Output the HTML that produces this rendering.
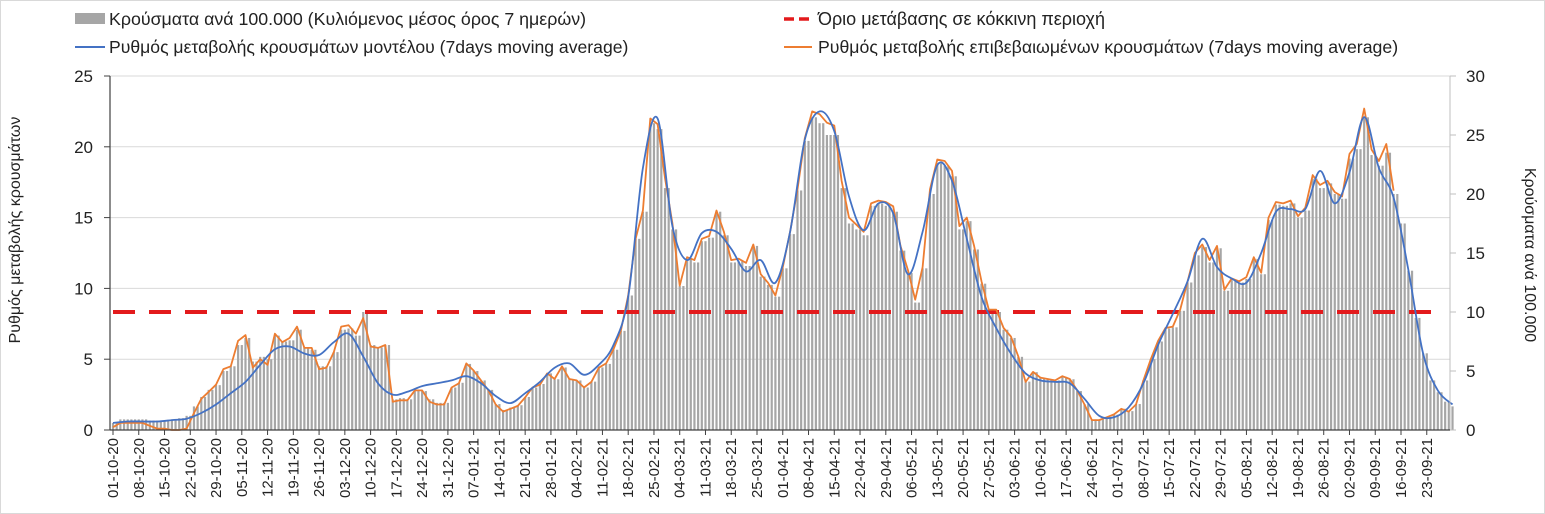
<!DOCTYPE html>
<html><head><meta charset="utf-8">
<style>
html,body{margin:0;padding:0;background:#fff;}
svg{display:block;font-family:"Liberation Sans",sans-serif;}
</style></head>
<body>
<svg id="chart" width="1545" height="514" viewBox="0 0 1545 514">
  <rect x="0.5" y="0.5" width="1544" height="513" fill="#fff" stroke="#d9d9d9"/>
  <g id="grid"></g>
  <g id="bars"></g>
  <g id="lines"></g>
  <g id="axes"></g>
  <g id="legend">
    <g>
      <rect x="75" y="13" width="30" height="11" fill="#a6a6a6"/>
      <text x="109" y="25" font-size="17.8" fill="#222">Κρούσματα ανά 100.000 (Κυλιόμενος μέσος όρος 7 ημερών)</text>
    </g>
    <g>
      <line x1="784" y1="19" x2="812" y2="19" stroke="#e31a1c" stroke-width="3.5" stroke-dasharray="10,5"/>
      <text x="818" y="25" font-size="18" fill="#222">Όριο μετάβασης σε κόκκινη περιοχή</text>
    </g>
    <g>
      <line x1="75" y1="47" x2="105" y2="47" stroke="#4472c4" stroke-width="2"/>
      <text x="109" y="53" font-size="17.6" fill="#222">Ρυθμός μεταβολής κρουσμάτων μοντέλου (7days moving average)</text>
    </g>
    <g>
      <line x1="784" y1="47" x2="812" y2="47" stroke="#ed7d31" stroke-width="2"/>
      <text x="818" y="53" font-size="17.7" fill="#222">Ρυθμός μεταβολής επιβεβαιωμένων κρουσμάτων (7days moving average)</text>
    </g>
  </g>
  <text x="20" y="230" font-size="16" fill="#222" text-anchor="middle" transform="rotate(-90 20 230)">Ρυθμός μεταβολής κρουσμάτων</text>
  <text x="1525" y="255" font-size="16" fill="#222" text-anchor="middle" transform="rotate(90 1525 255)">Κρούσματα ανά 100.000</text>
</svg>
<script>
// ---- data ----
const orangeStep = 2; // days between orange samples
const orangeRate = [0.2,0.5,0.5,0.5,0.5,0.3,0.1,0.1,0,0,0.1,1.2,2.2,2.7,3.2,4.3,4.5,6.3,6.7,4.4,5.0,4.6,6.8,6.2,6.5,7.3,5.8,5.8,4.3,4.4,5.5,7.3,7.4,6.8,7.9,5.9,5.8,6.0,2.0,2.1,2.1,2.8,2.8,2.0,1.8,1.8,3.0,3.3,4.7,4.2,3.5,2.8,1.8,1.3,1.5,1.7,2.3,3.0,3.2,4.0,3.6,4.5,3.6,3.5,3.0,3.4,4.4,4.7,5.7,7.0,9.5,13.5,15.5,22.0,21.6,17.8,14.6,10.2,12.2,12.0,13.5,13.7,15.5,14.0,12.0,12.1,11.8,13.1,11.0,10.4,9.5,11.5,14.0,17.0,20.6,22.5,22.3,21.7,21.5,17.6,15.0,14.5,14.0,16.0,16.2,16.1,15.8,13.0,11.3,9.2,11.5,17.0,19.1,19.0,18.3,14.4,15.0,13.0,10.5,8.5,8.5,7.2,6.6,5.2,3.4,4.1,3.7,3.6,3.5,3.8,3.6,2.8,1.8,0.7,0.7,0.9,1.1,1.5,1.3,1.8,3.5,5.0,6.3,7.2,7.3,8.5,10.5,12.5,13.1,12.0,13.0,9.9,10.7,10.5,10.8,12.2,11.1,15.0,16.1,16.0,16.2,15.1,15.7,18.0,17.3,17.6,16.8,16.5,19.5,20.2,22.7,19.8,19.0,20.2,16.9];
const blueStep = 4;
const modelRate = [0.5,0.6,0.6,0.6,0.7,0.8,1.2,1.8,2.6,3.4,4.6,5.7,5.9,5.4,5.3,6.2,6.8,5.2,3.3,2.5,2.7,3.1,3.3,3.5,3.8,3.3,2.4,1.9,2.6,3.4,4.4,4.7,3.9,4.6,6.0,9.4,18.5,22.0,14.4,12.0,13.9,14.0,12.8,11.2,12.0,10.4,14.0,20.5,22.5,21.1,16.5,14.1,16.0,15.3,11.0,14.0,18.7,17.6,13.5,9.4,7.2,5.4,4.0,3.5,3.4,3.3,2.2,1.0,0.9,1.6,3.3,6.0,8.2,10.5,13.5,11.5,10.7,10.4,12.5,15.4,15.6,15.6,18.3,16.0,18.2,22.1,18.5,16.4,11.3,5.4,2.8,1.8];
const barStep = 2;
const casesPer100k = [0.6,0.9,0.9,0.9,0.9,0.8,0.8,0.8,0.9,1.0,1.2,2.0,2.8,3.4,3.8,5.0,5.4,7.2,7.8,5.8,6.2,6.0,8.0,7.5,7.6,8.5,7.0,6.8,5.4,5.4,6.6,8.5,8.6,8.0,10.0,7.2,7.0,7.2,2.6,2.7,2.6,3.3,3.3,2.6,2.3,2.3,3.6,4.0,5.6,5.0,4.2,3.4,2.2,1.7,1.9,2.1,2.8,3.6,3.9,4.8,4.3,5.3,4.3,4.2,3.6,4.1,5.3,5.6,6.8,8.4,11.4,16.2,18.5,26.0,25.5,20.5,17.0,12.2,14.5,14.2,16.0,16.3,18.5,16.5,14.2,14.3,13.9,15.6,13.0,12.3,11.3,13.7,16.6,20.3,24.5,26.5,26.0,25.0,25.0,20.5,17.5,17.0,16.5,19.0,19.2,19.0,18.5,15.2,13.3,10.8,13.7,20.0,22.6,22.4,21.5,17.0,17.7,15.3,12.4,10.0,10.0,8.5,7.8,6.2,4.1,4.9,4.4,4.3,4.2,4.5,4.3,3.3,2.2,0.9,0.9,1.1,1.3,1.8,1.6,2.2,4.2,6.0,7.5,8.6,8.7,10.1,12.5,14.8,15.5,14.2,15.4,11.8,12.7,12.5,12.8,14.5,13.2,17.8,19.1,19.0,19.2,18.0,18.6,21.3,20.5,20.9,20.0,19.6,23.0,23.8,26.5,23.3,22.4,23.5,20.0,17.5,13.5,9.5,6.5,4.2,3.2,2.4,2.0];
const leftTicks = [0,5,10,15,20,25];
const rightTicks = [0,5,10,15,20,25,30];
const redThreshold = 10; // right axis units
const startDate = [2020,10,1]; // 01-10-2020
const labelCount = 52;

// ---- scales ----
const X0 = 113, PXD = 3.68, YB = 430, YT = 76;
const xDay = d => X0 + d*PXD;
const yL = v => YB - v*(YB-YT)/25;
const yR = v => YB - v*(YB-YT)/30;
const NS = "http://www.w3.org/2000/svg";
function mk(tag, attrs, parent){const e=document.createElementNS(NS,tag);for(const k in attrs)e.setAttribute(k,attrs[k]);parent.appendChild(e);return e;}

const grid = document.getElementById('grid');
leftTicks.forEach(v=>{ if(v>0){
  const l = mk('line',{x1:110,x2:1450,y1:yL(v),y2:yL(v),stroke:'#d9d9d9','stroke-width':1},grid);
  
  
}});

const barsG = document.getElementById('bars');
casesPer100k.forEach((v,i)=>{
  for(let k=0;k<barStep;k++){
    const d=i*barStep+k;
    if(d>364) continue;
    const r = mk('rect',{x:xDay(d)-1.1,y:yR(v),width:2.2,height:YB-yR(v),fill:'#a6a6a6'},barsG);
    
    
  }
});

const linesG = document.getElementById('lines');
const rl = mk('line',{x1:113,x2:1445,y1:yR(redThreshold),y2:yR(redThreshold),stroke:'#e31a1c','stroke-width':4,'stroke-dasharray':'22,14'},linesG);



function smoothPath(pts){
  let d='M'+pts[0][0].toFixed(1)+','+pts[0][1].toFixed(1);
  for(let i=0;i<pts.length-1;i++){
    const p0=pts[Math.max(0,i-1)],p1=pts[i],p2=pts[i+1],p3=pts[Math.min(pts.length-1,i+2)];
    const c1=[p1[0]+(p2[0]-p0[0])/6,p1[1]+(p2[1]-p0[1])/6];
    const c2=[p2[0]-(p3[0]-p1[0])/6,p2[1]-(p3[1]-p1[1])/6];
    d+=' C'+c1[0].toFixed(1)+','+c1[1].toFixed(1)+' '+c2[0].toFixed(1)+','+c2[1].toFixed(1)+' '+p2[0].toFixed(1)+','+p2[1].toFixed(1);
  }
  return d;
}
const op = mk('polyline',{points:orangeRate.map((v,i)=>xDay(i*orangeStep).toFixed(1)+','+yL(v).toFixed(1)).join(' '),fill:'none',stroke:'#ed7d31','stroke-width':1.8,'stroke-linejoin':'round'},linesG);


const bp = mk('path',{d:smoothPath(modelRate.map((v,i)=>[xDay(i*blueStep),yL(v)])),fill:'none',stroke:'#4472c4','stroke-width':1.8},linesG);



const axes = document.getElementById('axes');
const la = mk('line',{x1:110,x2:110,y1:YT,y2:YB,stroke:'#404040','stroke-width':1.2},axes);


const ra = mk('line',{x1:1450,x2:1450,y1:YT,y2:YB,stroke:'#bfbfbf','stroke-width':1},axes);


const xa = mk('line',{x1:110,x2:1450,y1:YB,y2:YB,stroke:'#404040','stroke-width':1.2},axes);


leftTicks.forEach(v=>{
  const t = mk('text',{x:93,y:yL(v)+6,'font-size':17,'text-anchor':'end',fill:'#222'},axes);
  t.textContent=v;
  
  
  mk('line',{x1:104,x2:110,y1:yL(v),y2:yL(v),stroke:'#404040'},axes);
});
rightTicks.forEach(v=>{
  const t = mk('text',{x:1466,y:yR(v)+6,'font-size':17,'text-anchor':'start',fill:'#222'},axes);
  t.textContent=v;
  
  
  mk('line',{x1:1450,x2:1456,y1:yR(v),y2:yR(v),stroke:'#bfbfbf'},axes);
});
const pad=n=>(n<10?'0':'')+n;
for(let k=0;k<labelCount;k++){
  const dt = new Date(startDate[0],startDate[1]-1,startDate[2]+k*7);
  const s = pad(dt.getDate())+'-'+pad(dt.getMonth()+1)+'-'+String(dt.getFullYear()).slice(2);
  const x = xDay(k*7);
  mk('line',{x1:x,x2:x,y1:YB,y2:YB+5,stroke:'#404040'},axes);
  const t = mk('text',{x:x+5,y:YB+8,'font-size':15,'text-anchor':'end',fill:'#222',transform:'rotate(-90 '+(x+5)+' '+(YB+8)+')'},axes);
  t.textContent=s;
  
  
}
</script>
</body></html>
